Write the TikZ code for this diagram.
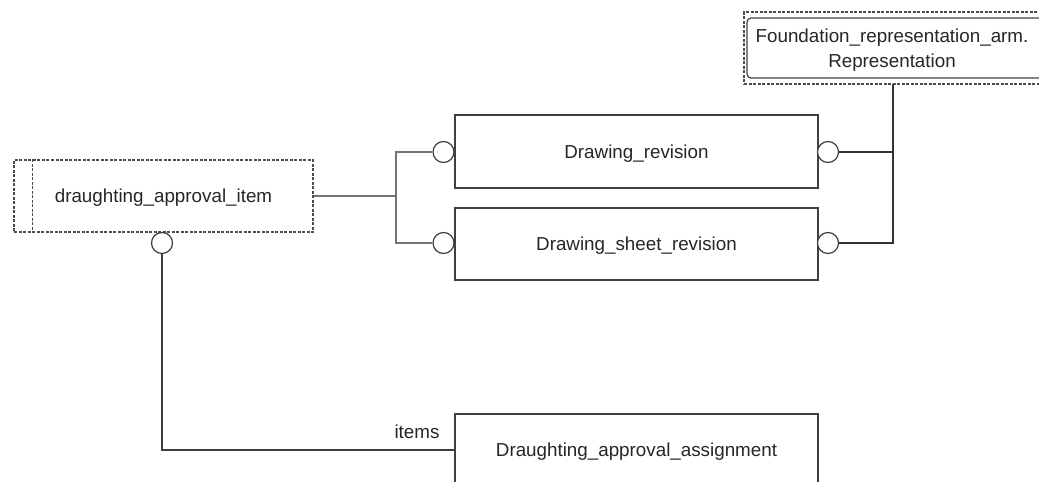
\documentclass[tikz,border=0pt]{standalone}
\usepackage{fontspec}
\setmainfont{Liberation Sans}
\begin{document}
\begin{tikzpicture}[x=1pt,y=-1pt,
  ln/.style={draw=black!75, line width=1.2pt},
  thick ln/.style={draw=black!80, line width=1.8pt},
  thin ln/.style={draw=black!55, line width=1.1pt},
  txt/.style={font=\fontsize{18.8}{25}\selectfont, text=black!85},
  oneline/.style={text height=13.5pt, text depth=0pt},
  ent/.style={ln, rectangle, minimum width=363pt, minimum height=72pt, inner sep=0pt, txt, oneline},
  sel/.style={draw=black!70, line width=1.1pt, dash pattern=on 3pt off 1.5pt},
  ring/.style={circle, draw=black!75, line width=1.2pt, fill=white, minimum size=21pt, inner sep=0pt}
]
\useasboundingbox (0,0) rectangle (1039,482);
\clip (0,0) rectangle (1039,482);

% entities
\node[ent, minimum height=73pt] (dr) at (636.5,151.5) {Drawing\_revision};
\node[ent] (dsr) at (636.5,244) {Drawing\_sheet\_revision};
\node[ent] (daa) at (636.5,450) {Draughting\_approval\_assignment};

% select type
\node[sel, rectangle, minimum width=299pt, minimum height=72pt, inner sep=0pt, txt, oneline] (dai) at (163.5,196) {draughting\_approval\_item};
\draw[sel] ([xshift=19pt]dai.north west) -- ([xshift=19pt]dai.south west);

% referenced schema entity
\node[sel, rectangle, minimum width=304pt, minimum height=72pt, inner sep=0pt] (fout) at (896,48) {};
\node[ln, rectangle, rounded corners=4pt, minimum width=298pt, minimum height=60pt, inner sep=0pt] (fnd) at (896,48) {};
\node[align=center, txt, inner sep=0pt] (fndtxt) at (892,50) {Foundation\_representation\_arm.\\Representation};

% rings
\node[ring] (c1) at (443.5,152) {};
\node[ring] (c2) at (443.5,243) {};
\node[ring] (c3) at (828,152) {};
\node[ring] (c4) at (828,243) {};
\node[ring] (c5) at (162,243) {};

% junction coordinates
\coordinate (jl) at (396,196);
\coordinate (ft) at (893,84);
\coordinate (rb) at (893,152);

% connectors
\draw[thin ln] (dai.east) -- (jl);
\draw[thin ln] (c1.west) -| (jl) |- (c2.west);
\draw[thick ln] (ft) |- (c4.east);
\draw[thick ln] (c3.east) -- (rb);
\draw[ln] (c5.south) |- (daa.west);

\node[txt, anchor=base] (items) at (417,438) {items};
\end{tikzpicture}
\end{document}
